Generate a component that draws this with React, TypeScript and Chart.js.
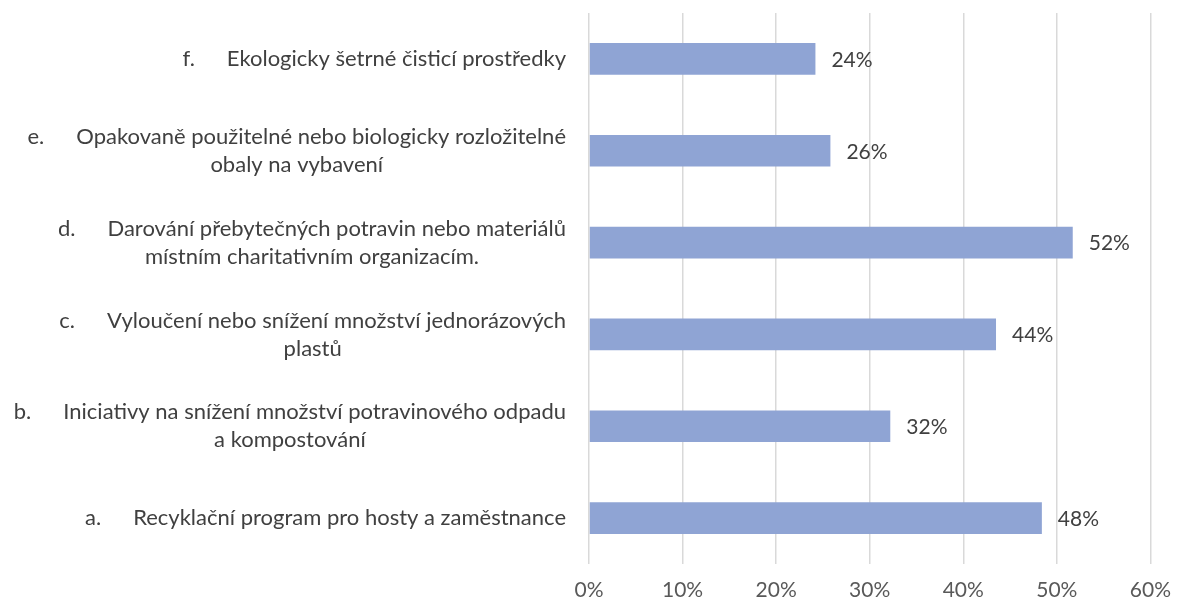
import React, { useEffect, useRef } from 'react';
import { Chart, registerables } from 'chart.js';

Chart.register(...registerables);

const prefixes = ['f.', 'e.', 'd.', 'c.', 'b.', 'a.'];
const firstLines = [
  'Ekologicky šetrné čisticí prostředky',
  'Opakovaně použitelné nebo biologicky rozložitelné',
  'Darování přebytečných potravin nebo materiálů',
  'Vyloučení nebo snížení množství jednorázových',
  'Iniciativy na snížení množství potravinového odpadu',
  'Recyklační program pro hosty a zaměstnance',
];
const secondLines = [
  '',
  'obaly na vybavení',
  'místním charitativním organizacím.',
  'plastů',
  'a kompostování',
  '',
];
const values = [0.242, 0.258, 0.517, 0.435, 0.322, 0.484];
const xMin = 0;
const xMax = 0.6;
const xStep = 0.1;

const FONT = 'Lato, "Open Sans", sans-serif';
const CAT_FONT_SIZE = 22;
const VAL_FONT_SIZE = 21;
const TEXT_COLOR = '#404040';
const TICK_COLOR = '#595959';

const labelsPlugin = {
  id: 'customLabels',
  afterDatasetsDraw(chart: any) {
    const ctx = chart.ctx as CanvasRenderingContext2D;
    const yScale = chart.scales.y;
    const meta = chart.getDatasetMeta(0);
    ctx.save();
    ctx.fillStyle = TEXT_COLOR;
    ctx.textBaseline = 'middle';

    // value labels
    ctx.font = `${VAL_FONT_SIZE}px ${FONT}`;
    meta.data.forEach((bar: any, i: number) => {
      const txt = Math.round(values[i] * 100) + '%';
      ctx.textAlign = 'left';
      ctx.fillText(txt, bar.x + 16, bar.y + 1);
    });

    // category labels
    ctx.font = `${CAT_FONT_SIZE}px ${FONT}`;
    const rightEdge = 566;
    const gap = 32;
    const lineGap = 28;
    prefixes.forEach((p, i) => {
      const cy = yScale.getPixelForValue(i);
      const pw = ctx.measureText(p).width;
      const tw = ctx.measureText(firstLines[i]).width;
      const total = pw + gap + tw;
      const left = rightEdge - total;
      const has2 = secondLines[i] !== '';
      const y1 = has2 ? cy - lineGap / 2 : cy;
      ctx.textAlign = 'left';
      ctx.fillText(p, left, y1);
      ctx.fillText(firstLines[i], left + pw + gap, y1);
      if (has2) {
        ctx.textAlign = 'center';
        ctx.fillText(secondLines[i], left + total / 2, y1 + lineGap);
      }
    });
    ctx.restore();
  },
};

export default function App() {
  const ref = useRef<HTMLCanvasElement | null>(null);

  useEffect(() => {
    document.body.style.margin = '0';
    const canvas = ref.current;
    if (!canvas) return;
    const chart = new Chart(canvas, {
      type: 'bar',
      data: {
        labels: prefixes.map((p, i) => `${p} ${firstLines[i]} ${secondLines[i]}`.trim()),
        datasets: [
          {
            data: values,
            backgroundColor: '#8FA4D4',
            borderWidth: 0,
            barPercentage: 0.345,
            categoryPercentage: 1,
          },
        ],
      },
      options: {
        indexAxis: 'y',
        animation: false,
        responsive: false,
        devicePixelRatio: 1,
        layout: { padding: { left: 589, right: 32, top: 13, bottom: 0 } },
        plugins: {
          legend: { display: false },
          tooltip: { enabled: false },
        },
        scales: {
          x: {
            min: xMin,
            max: xMax,
            grid: {
              color: '#D9D9D9',
              lineWidth: 1.5,
              drawTicks: false,
            },
            border: { display: false },
            afterFit: (scale: any) => {
              scale.height = 44;
            },
            ticks: {
              stepSize: xStep,
              padding: 14,
              color: TICK_COLOR,
              font: { family: FONT, size: VAL_FONT_SIZE },
              callback: (v: any) => Math.round(Number(v) * 100) + '%',
            },
          },
          y: {
            display: false,
          },
        },
      },
      plugins: [labelsPlugin],
    });
    return () => chart.destroy();
  }, []);

  return <canvas ref={ref} width={1185} height={608} style={{ display: 'block' }} />;
}
